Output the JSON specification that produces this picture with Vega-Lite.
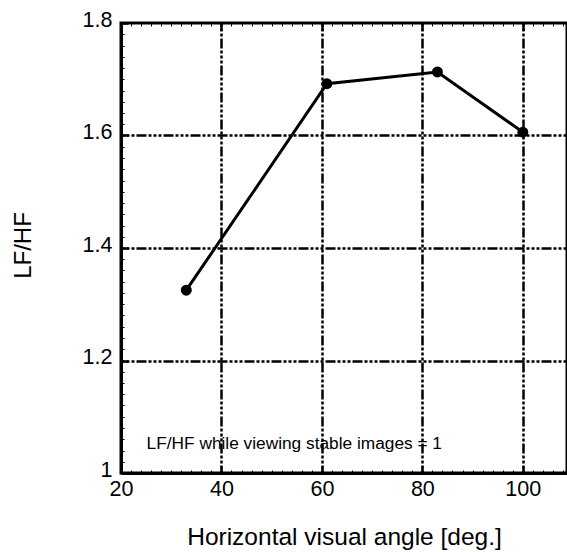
{
  "$schema": "https://vega.github.io/schema/vega-lite/v6.json",
  "width": 446,
  "height": 450,
  "autosize": "none",
  "padding": {"left": 121, "top": 23, "right": 0, "bottom": 79},
  "background": "white",
  "config": {
    "view": {"stroke": "black", "strokeWidth": 3},
    "font": "Liberation Sans"
  },
  "datasets": {
    "pts": [
      {"angle": 33, "lfhf": 1.325},
      {"angle": 61, "lfhf": 1.692},
      {"angle": 83, "lfhf": 1.713},
      {"angle": 100, "lfhf": 1.606}
    ],
    "note": [
      {"angle": 25.1, "lfhf": 1.052, "label": "LF/HF while viewing stable images = 1"}
    ]
  },
  "layer": [
    {
      "data": {"name": "pts"},
      "mark": {"type": "line", "color": "black", "strokeWidth": 3},
      "encoding": {
        "x": {
          "field": "angle", "type": "quantitative",
          "scale": {"domain": [20, 108.8], "nice": false, "zero": false},
          "axis": {
            "orient": "bottom",
            "title": "Horizontal visual angle [deg.]",
            "values": [20,22,24,26,28,30,32,34,36,38,40,42,44,46,48,50,52,54,56,58,60,62,64,66,68,70,72,74,76,78,80,82,84,86,88,90,92,94,96,98,100,102,104,106,108],
            "labelExpr": "datum.value % 20 == 0 ? datum.label : ''",
            "grid": true,
            "gridColor": "black",
            "gridWidth": 2.5,
            "gridDash": [3, 2, 3, 2, 3, 2, 10, 2],
            "gridOpacity": {"condition": {"test": "datum.value % 20 == 0 && datum.value > 20", "value": 1}, "value": 0},
            "tickColor": "black",
            "tickSize": {"condition": {"test": "datum.value % 20 == 0", "value": -7}, "value": -3},
            "tickWidth": {"condition": {"test": "datum.value % 20 == 0", "value": 2.5}, "value": 1},
            "domain": true, "domainColor": "black", "domainWidth": 3,
            "labelFont": "Liberation Sans", "labelFontSize": 21.5, "labelColor": "black",
            "labelPadding": 12,
            "labelFlush": false, "labelOverlap": false,
            "titleFont": "Liberation Sans", "titleFontSize": 24.5, "titleFontWeight": "normal", "titleColor": "black",
            "titleY": 71, "titleBaseline": "alphabetic"
          }
        },
        "y": {
          "field": "lfhf", "type": "quantitative",
          "scale": {"domain": [1, 1.8], "nice": false, "zero": false},
          "axis": {
            "orient": "left",
            "title": "LF/HF",
            "values": [1,1.02,1.04,1.06,1.08,1.1,1.12,1.14,1.16,1.18,1.2,1.22,1.24,1.26,1.28,1.3,1.32,1.34,1.36,1.38,1.4,1.42,1.44,1.46,1.48,1.5,1.52,1.54,1.56,1.58,1.6,1.62,1.64,1.66,1.68,1.7,1.72,1.74,1.76,1.78,1.8],
            "format": ".1~f",
            "labelExpr": "round(datum.value*100) % 20 == 0 ? datum.label : ''",
            "grid": true,
            "gridColor": "black",
            "gridWidth": 2.5,
            "gridDash": [3, 2, 3, 2, 3, 2, 10, 2],
            "gridOpacity": {"condition": {"test": "round(datum.value*100) % 20 == 0 && datum.value > 1.01 && datum.value < 1.79", "value": 1}, "value": 0},
            "tickColor": "black",
            "tickSize": {"condition": {"test": "round(datum.value*100) % 20 == 0", "value": -7}, "value": -3},
            "tickWidth": {"condition": {"test": "round(datum.value*100) % 20 == 0", "value": 2.5}, "value": 1},
            "domain": true, "domainColor": "black", "domainWidth": 3,
            "labelFont": "Liberation Sans", "labelFontSize": 21.5, "labelColor": "black",
            "labelPadding": 16, "labelOffset": -3,
            "labelFlush": false, "labelOverlap": false,
            "titleFont": "Liberation Sans", "titleFontSize": 24, "titleFontWeight": "normal", "titleColor": "black",
            "titleX": -98, "titleY": 222, "titleAngle": -90, "titleBaseline": "middle", "titleAlign": "center"
          }
        }
      }
    },
    {
      "data": {"name": "pts"},
      "mark": {"type": "point", "filled": true, "color": "black", "size": 120, "opacity": 1},
      "encoding": {
        "x": {
          "field": "angle", "type": "quantitative",
          "axis": {
            "orient": "top",
            "title": null,
            "values": [20,22,24,26,28,30,32,34,36,38,40,42,44,46,48,50,52,54,56,58,60,62,64,66,68,70,72,74,76,78,80,82,84,86,88,90,92,94,96,98,100,102,104,106,108],
            "labels": false,
            "grid": false,
            "domain": false,
            "tickColor": "black",
            "tickSize": {"condition": {"test": "datum.value % 20 == 0", "value": -7}, "value": -3},
            "tickWidth": {"condition": {"test": "datum.value % 20 == 0", "value": 2.5}, "value": 1}
          }
        },
        "y": {
          "field": "lfhf", "type": "quantitative",
          "axis": {
            "orient": "left",
            "title": "LF/HF",
            "values": [1,1.02,1.04,1.06,1.08,1.1,1.12,1.14,1.16,1.18,1.2,1.22,1.24,1.26,1.28,1.3,1.32,1.34,1.36,1.38,1.4,1.42,1.44,1.46,1.48,1.5,1.52,1.54,1.56,1.58,1.6,1.62,1.64,1.66,1.68,1.7,1.72,1.74,1.76,1.78,1.8],
            "format": ".1~f",
            "labelExpr": "round(datum.value*100) % 20 == 0 ? datum.label : ''",
            "grid": true,
            "gridColor": "black",
            "gridWidth": 2.5,
            "gridDash": [3, 2, 3, 2, 3, 2, 10, 2],
            "gridOpacity": {"condition": {"test": "round(datum.value*100) % 20 == 0 && datum.value > 1.01 && datum.value < 1.79", "value": 1}, "value": 0},
            "tickColor": "black",
            "tickSize": {"condition": {"test": "round(datum.value*100) % 20 == 0", "value": -7}, "value": -3},
            "tickWidth": {"condition": {"test": "round(datum.value*100) % 20 == 0", "value": 2.5}, "value": 1},
            "domain": true, "domainColor": "black", "domainWidth": 3,
            "labelFont": "Liberation Sans", "labelFontSize": 21.5, "labelColor": "black",
            "labelPadding": 16, "labelOffset": -3,
            "labelFlush": false, "labelOverlap": false,
            "titleFont": "Liberation Sans", "titleFontSize": 24, "titleFontWeight": "normal", "titleColor": "black",
            "titleX": -98, "titleY": 222, "titleAngle": -90, "titleBaseline": "middle", "titleAlign": "center"
          }
        }
      }
    },
    {
      "data": {"name": "note"},
      "mark": {"type": "text", "align": "left", "baseline": "middle", "font": "Liberation Sans", "fontSize": 17.3, "color": "black"},
      "encoding": {
        "x": {"field": "angle", "type": "quantitative", "axis": null},
        "y": {
          "field": "lfhf", "type": "quantitative",
          "axis": {
            "orient": "left",
            "title": "LF/HF",
            "values": [1,1.02,1.04,1.06,1.08,1.1,1.12,1.14,1.16,1.18,1.2,1.22,1.24,1.26,1.28,1.3,1.32,1.34,1.36,1.38,1.4,1.42,1.44,1.46,1.48,1.5,1.52,1.54,1.56,1.58,1.6,1.62,1.64,1.66,1.68,1.7,1.72,1.74,1.76,1.78,1.8],
            "format": ".1~f",
            "labelExpr": "round(datum.value*100) % 20 == 0 ? datum.label : ''",
            "grid": true,
            "gridColor": "black",
            "gridWidth": 2.5,
            "gridDash": [3, 2, 3, 2, 3, 2, 10, 2],
            "gridOpacity": {"condition": {"test": "round(datum.value*100) % 20 == 0 && datum.value > 1.01 && datum.value < 1.79", "value": 1}, "value": 0},
            "tickColor": "black",
            "tickSize": {"condition": {"test": "round(datum.value*100) % 20 == 0", "value": -7}, "value": -3},
            "tickWidth": {"condition": {"test": "round(datum.value*100) % 20 == 0", "value": 2.5}, "value": 1},
            "domain": true, "domainColor": "black", "domainWidth": 3,
            "labelFont": "Liberation Sans", "labelFontSize": 21.5, "labelColor": "black",
            "labelPadding": 16, "labelOffset": -3,
            "labelFlush": false, "labelOverlap": false,
            "titleFont": "Liberation Sans", "titleFontSize": 24, "titleFontWeight": "normal", "titleColor": "black",
            "titleX": -98, "titleY": 222, "titleAngle": -90, "titleBaseline": "middle", "titleAlign": "center"
          }
        },
        "text": {"field": "label"}
      }
    }
  ]
}
